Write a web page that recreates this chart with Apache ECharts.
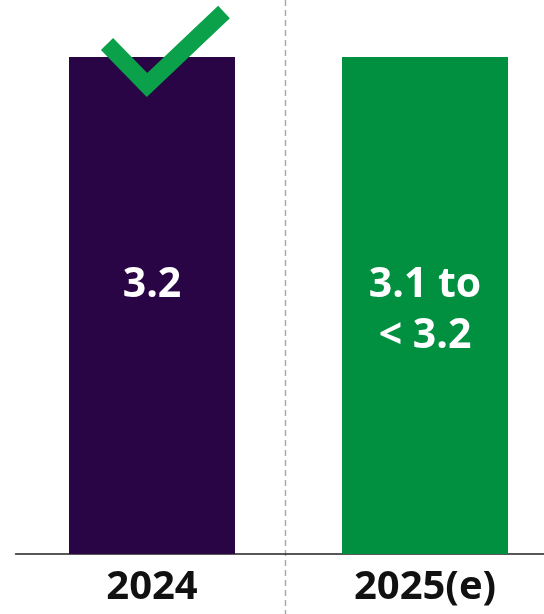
<!DOCTYPE html>
<html>
<head>
<meta charset="utf-8">
<script src="https://cdn.jsdelivr.net/npm/echarts@6/dist/echarts.min.js"></script>
<style>
  html, body { margin: 0; padding: 0; background: #fff; }
  #chart { width: 544px; height: 614px; }
</style>
</head>
<body>
<div id="chart"></div>
<script>
// Years shown on the category axis
const categories = ['2024', '2025(e)'];
// Bar heights (2025 estimate is the upper end of its range)
const values = [3.2, 3.2];
// Text written inside each bar
const barLabels = ['3.2', '3.1 to\n< 3.2'];
const barColors = ['#2a0545', '#009040'];

const chart = echarts.init(document.getElementById('chart'), null, { renderer: 'canvas' });

const FONT = '"Open Sans", "Noto Sans", sans-serif';

chart.setOption({
  animation: false,
  grid: {
    left: 15.5, width: 546, top: 0, bottom: 60,
    containLabel: false, outerBoundsMode: 'none'
  },
  xAxis: {
    type: 'category',
    data: categories,
    boundaryGap: true,
    axisLine: { show: true, lineStyle: { color: '#222', width: 1.5 } },
    axisTick: { show: false },
    axisLabel: {
      color: '#111', fontFamily: FONT, fontWeight: 'bold', fontSize: 40, margin: 14
    },
    splitLine: { show: false }
  },
  yAxis: {
    type: 'value', min: 0, max: 3.567,
    show: false, splitLine: { show: false }
  },
  series: [{
    type: 'bar',
    barWidth: 166,
    data: values.map((v, i) => ({
      value: v,
      itemStyle: { color: barColors[i] },
      label: {
        show: true,
        formatter: barLabels[i],
        position: ['50%', '40.8%'],
        align: 'center',
        verticalAlign: 'top',
        color: '#fff',
        fontFamily: FONT,
        fontWeight: 'bold',
        fontSize: 41,
        lineHeight: 51
      }
    }))
  }]
});

// Divider between the two years and the tick mark above the 2024 bar,
// placed from the chart's own coordinate system.
function drawOverlay() {
  const p0 = chart.convertToPixel({ xAxisIndex: 0, yAxisIndex: 0 }, [0, values[0]]);
  const p1 = chart.convertToPixel({ xAxisIndex: 0, yAxisIndex: 0 }, [1, values[1]]);
  const midX = Math.round((p0[0] + p1[0]) / 2) - 4 + 0.5;
  const cx = p0[0] - 5;
  const topY = p0[1];
  chart.setOption({
    graphic: [
      {
        type: 'line',
        shape: { x1: midX, y1: 0, x2: midX, y2: 614 },
        style: { stroke: '#aaaaaa', lineWidth: 1.5, lineDash: [6, 4] },
        z: 0
      },
      {
        type: 'polyline',
        shape: { points: [[cx - 40, topY - 13], [cx, topY + 28], [cx + 77, topY - 45]] },
        style: { stroke: '#0ba14b', lineWidth: 17, fill: null, lineJoin: 'miter', lineCap: 'butt' },
        z: 10
      }
    ]
  });
}
drawOverlay();
</script>
</body>
</html>
